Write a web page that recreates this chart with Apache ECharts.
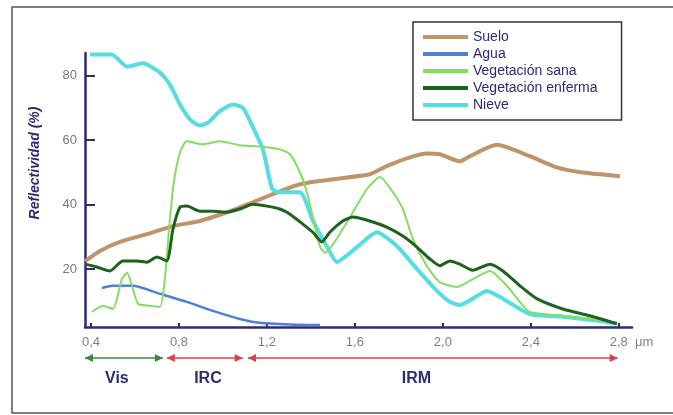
<!DOCTYPE html>
<html>
<head>
<meta charset="utf-8">
<script src="https://cdn.jsdelivr.net/npm/echarts@6/dist/echarts.min.js"></script>
<style>
    html, body {margin: 0; padding: 0; background: #fff;}
    #main {width: 673px; height: 415px;}
</style>
</head>
<body>
<div id="main"></div>
<script>
// curvas: [longitud de onda (um), reflectividad (%)]
var suelo = [[0.373, 22.4], [0.441, 25.6], [0.532, 28.4], [0.655, 30.8], [0.773, 33.3], [0.895, 34.9],
    [1.018, 37.6], [1.136, 40.7], [1.259, 44.1], [1.364, 46.5], [1.518, 48], [1.668, 49.4],
    [1.745, 51.9], [1.85, 54.6], [1.927, 55.8], [1.986, 55.6], [2.077, 53.4], [2.123, 55],
    [2.245, 58.5], [2.395, 55], [2.518, 51.5], [2.636, 49.9], [2.805, 48.8]]

var agua = [[0.45, 14.1], [0.5, 14.8], [0.591, 14.8], [0.714, 12.3], [0.836, 9.8], [0.955, 7],
    [1.077, 4.5], [1.168, 3.3], [1.305, 2.8], [1.441, 2.6]]

var vegSana = [[0.405, 6.7], [0.455, 8.6], [0.5, 7.6], [0.541, 16.9], [0.564, 18.8], [0.591, 13.8],
    [0.614, 9.2], [0.668, 8.6], [0.714, 8.3], [0.736, 16.9], [0.759, 35.5], [0.777, 47],
    [0.805, 56.2], [0.836, 59.6], [0.909, 58.7], [0.986, 59.6], [1.077, 58.4], [1.168, 58],
    [1.259, 57.1], [1.305, 55.6], [1.35, 50], [1.382, 43.8], [1.409, 36], [1.441, 27],
    [1.464, 25], [1.564, 34.5], [1.655, 44.8], [1.714, 48.5], [1.773, 43.8], [1.818, 38.6],
    [1.864, 29.3], [1.927, 20.9], [1.986, 15.9], [2.064, 14.4], [2.123, 16.3], [2.214, 19.4],
    [2.291, 14.8], [2.35, 9.8], [2.395, 6.7], [2.545, 5.5], [2.7, 4.3], [2.791, 3]]

var vegEnferma = [[0.373, 21.5], [0.427, 20.6], [0.486, 19.4], [0.545, 22.5], [0.609, 22.5],
    [0.655, 22.1], [0.7, 23.7], [0.745, 22.5], [0.773, 32.4], [0.805, 39.2], [0.836, 39.5],
    [0.895, 37.9], [0.955, 37.9], [1.018, 37.6], [1.077, 38.6], [1.136, 40.1], [1.2, 39.5],
    [1.259, 38.6], [1.305, 37], [1.364, 33.9], [1.409, 31.4], [1.45, 28.4], [1.486, 31.4],
    [1.545, 34.9], [1.591, 36.1], [1.668, 34.9], [1.745, 33], [1.818, 30.2], [1.882, 26.8],
    [1.941, 23.1], [1.986, 21], [2.032, 22.5], [2.077, 21.5], [2.136, 19.6], [2.214, 21.5],
    [2.273, 19.4], [2.35, 14.8], [2.427, 10.8], [2.545, 7.6], [2.668, 5.5], [2.791, 3]]

var nieve = [[0.395, 86.5], [0.495, 86.5], [0.564, 82.8], [0.636, 83.8], [0.714, 80.9], [0.759, 77.2],
    [0.805, 71], [0.85, 66.4], [0.895, 64.5], [0.932, 65.4], [0.986, 69], [1.045, 71],
    [1.091, 70], [1.136, 64], [1.182, 57], [1.223, 45], [1.25, 43.8], [1.35, 43.8],
    [1.409, 35], [1.473, 27], [1.518, 22.2], [1.609, 26.8], [1.7, 31.4], [1.791, 27.1],
    [1.882, 20], [1.973, 13.2], [2.032, 9.8], [2.077, 8.8], [2.136, 10.8], [2.2, 13.2],
    [2.273, 10.8], [2.35, 7.6], [2.409, 5.8], [2.545, 5.2], [2.7, 4], [2.791, 3]]

var xTicks = [0.4, 0.8, 1.2, 1.6, 2.0, 2.4, 2.8]
var yTicks = [20, 40, 60, 80]

// regiones del espectro (flechas bajo el eje)
var bandNames = ['Vis', 'IRC', 'IRM']
var bandFrom = [0.373, 0.745, 1.114]
var bandTo = [0.727, 1.09, 2.795]
var bandLabelX = [0.518, 0.932, 1.88]
var bandColors = ['#3b8a3b', '#d8404c', '#d8404c']

var navy = '#2b2b72'

var chartDom = document.getElementById('main');
var myChart = echarts.init(chartDom);
var option;

function lineSerie(name, data, color, width) {
    return {
        name: name,
        type: 'line',
        data: data,
        showSymbol: false,
        smooth: 0.2,
        clip: false,
        lineStyle: {color: color, width: width},
        itemStyle: {color: color}
    }
}

option = {
    animation: false,
    backgroundColor: '#fff',
    grid: {left: 85, right: 41, top: 53, bottom: 88},
    legend: {
        orient: 'vertical',
        left: 413,
        top: 22,
        icon: 'rect',
        itemWidth: 45,
        itemHeight: 4,
        itemGap: 3,
        padding: [8, 24, 8, 10],
        borderColor: '#333',
        borderWidth: 1.5,
        backgroundColor: '#fff',
        textStyle: {color: navy, fontSize: 14, fontFamily: 'Liberation Sans'},
        data: ['Suelo', 'Agua', 'Vegetación sana', 'Vegetación enferma', 'Nieve']
    },
    xAxis: {
        type: 'value',
        min: 0.373,
        max: 2.86,
        name: 'μm',
        nameLocation: 'end',
        nameGap: 3,
        nameTextStyle: {color: '#7b7f93', fontSize: 13, fontFamily: 'Liberation Sans',
            verticalAlign: 'top', padding: [9, 0, 0, 0]},
        splitLine: {show: false},
        axisLine: {onZero: false, lineStyle: {color: navy, width: 2.5}},
        axisTick: {inside: true, length: 4, customValues: xTicks, lineStyle: {color: navy, width: 2}},
        axisLabel: {
            customValues: xTicks,
            margin: 9,
            color: '#7b7f93',
            fontSize: 13,
            fontFamily: 'Liberation Sans',
            formatter: function (v) {
                return v.toFixed(1).replace('.', ',')
            }
        }
    },
    yAxis: {
        type: 'value',
        min: 2,
        max: 87,
        name: 'Reflectividad (%)',
        nameLocation: 'middle',
        nameGap: 43,
        nameTextStyle: {color: navy, fontSize: 14, fontWeight: 'bold', fontStyle: 'italic',
            fontFamily: 'Liberation Sans', padding: [0, 0, 0, 54]},
        splitLine: {show: false},
        axisLine: {show: true, onZero: false, lineStyle: {color: navy, width: 2.5}},
        axisTick: {inside: true, length: 10, customValues: yTicks, lineStyle: {color: navy, width: 2}},
        axisLabel: {customValues: yTicks, margin: 8, color: '#777', fontSize: 13, fontFamily: 'Liberation Sans'}
    },
    series: [
        lineSerie('Suelo', suelo, '#c0946a', 4),
        lineSerie('Agua', agua, '#4f7fd6', 2.5),
        lineSerie('Nieve', nieve, '#55dde2', 4),
        lineSerie('Vegetación sana', vegSana, '#86dc62', 2),
        lineSerie('Vegetación enferma', vegEnferma, '#1f621f', 3)
    ]
};

option && myChart.setOption(option);

// flechas Vis / IRC / IRM y marco
var baseY = myChart.convertToPixel({yAxisIndex: 0}, 2)
var arrowY = baseY + 31
var labelY = baseY + 52
var graphics = [{
    type: 'rect',
    shape: {x: 12, y: 7, width: 680, height: 406},
    style: {fill: null, stroke: '#555', lineWidth: 1.5},
    silent: true
}]
for (var i = 0; i < bandNames.length; i++) {
    var x1 = myChart.convertToPixel({xAxisIndex: 0}, bandFrom[i])
    var x2 = myChart.convertToPixel({xAxisIndex: 0}, bandTo[i])
    var xl = myChart.convertToPixel({xAxisIndex: 0}, bandLabelX[i])
    var c = bandColors[i]
    graphics.push({
        type: 'line',
        shape: {x1: x1, y1: arrowY, x2: x2, y2: arrowY},
        style: {stroke: c, lineWidth: 1.5}
    })
    graphics.push({
        type: 'polygon',
        shape: {points: [[x1, arrowY], [x1 + 8, arrowY - 4], [x1 + 8, arrowY + 4]]},
        style: {fill: c}
    })
    graphics.push({
        type: 'polygon',
        shape: {points: [[x2, arrowY], [x2 - 8, arrowY - 4], [x2 - 8, arrowY + 4]]},
        style: {fill: c}
    })
    graphics.push({
        type: 'text',
        x: xl,
        y: labelY,
        style: {
            text: bandNames[i], fill: navy, font: 'bold 16px "Liberation Sans"',
            align: 'center', verticalAlign: 'middle'
        }
    })
}
myChart.setOption({graphic: graphics});
</script>
</body>
</html>
